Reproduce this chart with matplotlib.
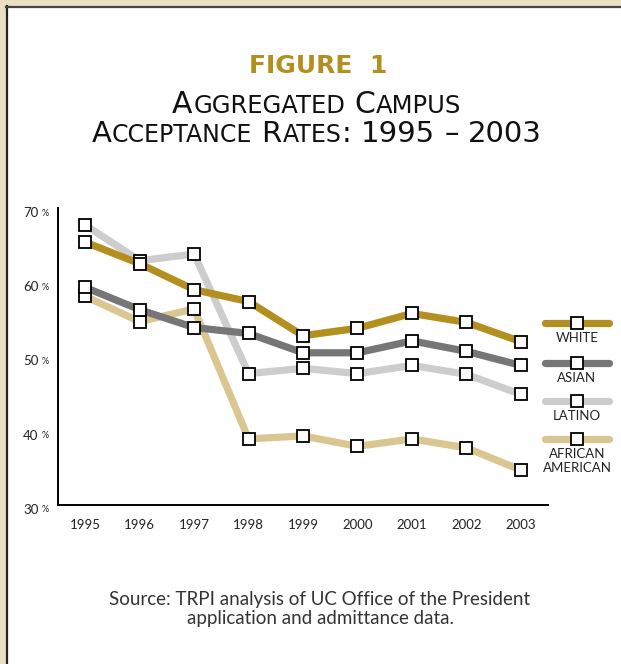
import matplotlib
matplotlib.use('Agg')
import matplotlib.pyplot as plt
import matplotlib.transforms as mtransforms
from matplotlib.patches import Rectangle
from matplotlib.lines import Line2D

# --- Data (acceptance rate, %) ---
years = [1995, 1996, 1997, 1998, 1999, 2000, 2001, 2002, 2003]
white = [65.4, 62.5, 59.0, 57.4, 52.8, 53.8, 55.8, 54.6, 52.0]
asian = [59.3, 56.3, 53.9, 53.1, 50.5, 50.5, 52.1, 50.7, 48.8]
latino = [67.7, 62.9, 63.8, 47.7, 48.4, 47.7, 48.8, 47.6, 44.9]
african_american = [58.1, 54.7, 56.4, 38.9, 39.3, 37.9, 38.9, 37.7, 34.7]

series_names = ['WHITE', 'ASIAN', 'LATINO', 'AFRICAN\nAMERICAN']
series_values = [white, asian, latino, african_american]
series_colors = ['#b38f1f', '#767676', '#cdcdcd', '#d9c691']
y_ticks = [30, 40, 50, 60, 70]

W, H = 621, 664
fig = plt.figure(figsize=(W / 100, H / 100), dpi=100, facecolor='#e8dfc4')

# white panel with dark left/top edge
fig.patches.append(Rectangle((7 / W, 0), 1, 1 - 7 / H, transform=fig.transFigure,
                             facecolor='white', edgecolor='none', zorder=-10))
fig.add_artist(Line2D([7 / W, 7 / W], [0, 1 - 6 / H], color='#222222', lw=1.6))
fig.add_artist(Line2D([6 / W, 1], [1 - 7 / H, 1 - 7 / H], color='#444444', lw=1.6))

ax = fig.add_axes([58 / W, 1 - 505 / H, 490 / W, 297 / H])
ax.set_facecolor('none')

# lines: white on top, African American at the bottom
for i in range(len(series_values) - 1, -1, -1):
    ax.plot(years, series_values[i], color=series_colors[i], lw=5.2,
            solid_capstyle='butt', solid_joinstyle='miter', zorder=2 + (3 - i) * 0.1)
for i in range(len(series_values) - 1, -1, -1):
    ax.plot(years, series_values[i], ls='none', marker='s', ms=8.3,
            mfc='white', mec='black', mew=1.3, zorder=5 + (3 - i) * 0.1)

ax.set_xlim(1994.5, 2003.5)
ax.set_ylim(30, 70)
for s in ['top', 'right']:
    ax.spines[s].set_visible(False)
for s in ['left', 'bottom']:
    ax.spines[s].set_linewidth(1.4)
ax.set_xticks(years)
ax.set_xticklabels([str(y) for y in years], fontsize=9.5, family='Lato', color='#222222')
ax.tick_params(axis='x', length=0, pad=10)
ax.set_yticks(y_ticks)
ax.set_yticklabels([''] * len(y_ticks))
ax.tick_params(axis='y', length=0)

# y tick labels "70 %" with small percent sign
trans = mtransforms.offset_copy(ax.get_yaxis_transform(), fig=fig, y=-5, units='dots')
for v in y_ticks:
    ax.text(-0.040, v, str(v), transform=trans, ha='right', va='center',
            fontsize=9.5, family='Lato', color='#222222', clip_on=False)
    ax.text(-0.034, v, '%', transform=trans, ha='left', va='center',
            fontsize=6.5, family='Lato', color='#222222', clip_on=False)

# legend on the right
leg_y = [323, 363, 401, 439]
for name, col, ly in zip(series_names, series_colors, leg_y):
    yf = 1 - ly / H
    fig.add_artist(Line2D([545 / W, 609 / W], [yf, yf], color=col, lw=5.2,
                          solid_capstyle='round'))
    fig.add_artist(Line2D([577 / W], [yf], ls='none', marker='s', ms=8.3,
                          mfc='white', mec='black', mew=1.3))
    fig.text(577 / W, 1 - (ly + 9) / H, name, ha='center', va='top', fontsize=9.5,
             family='Lato', color='#222222', linespacing=1.15)


def small_caps(s, xc, yb, big, small, **kw):
    renderer = fig.canvas.get_renderer()
    runs = []
    for ch in s:
        if ch == ' ':
            runs.append([' ', big])
            continue
        size = small if ch.islower() else big
        if runs and runs[-1][1] == size and runs[-1][0] != ' ':
            runs[-1][0] += ch.upper()
        else:
            runs.append([ch.upper(), size])
    items = []
    total = 0
    for txt, size in runs:
        if txt == ' ':
            w = 0.30 * big * 100 / 72
            items.append((None, w))
        else:
            t = fig.text(0, 1 - yb / H, txt, fontsize=size, ha='left', va='baseline', **kw)
            w = t.get_window_extent(renderer).width + 0.6
            items.append((t, w))
        total += w
    x = xc - total / 2
    for t, w in items:
        if t is not None:
            t.set_x(x / W)
        x += w


fig.text(318 / W, 1 - 66 / H, 'FIGURE  1', ha='center', va='center', fontsize=18,
         fontweight='bold', family='DejaVu Sans', color='#b38f1f')
small_caps('Aggregated Campus', 317, 113, 21.5, 17.5, family='DejaVu Sans', color='#111111')
small_caps('Acceptance Rates: 1995 \u2013 2003', 317, 142, 21, 17, family='DejaVu Sans',
           color='#111111')

fig.text(320 / W, 1 - 609 / H, 'Source: TRPI analysis of UC Office of the President\n'
         'application and admittance data.', ha='center', va='center', fontsize=13.5,
         family='Lato', color='#333333', linespacing=1.15)

fig.savefig('out.png', dpi=100, facecolor=fig.get_facecolor())
